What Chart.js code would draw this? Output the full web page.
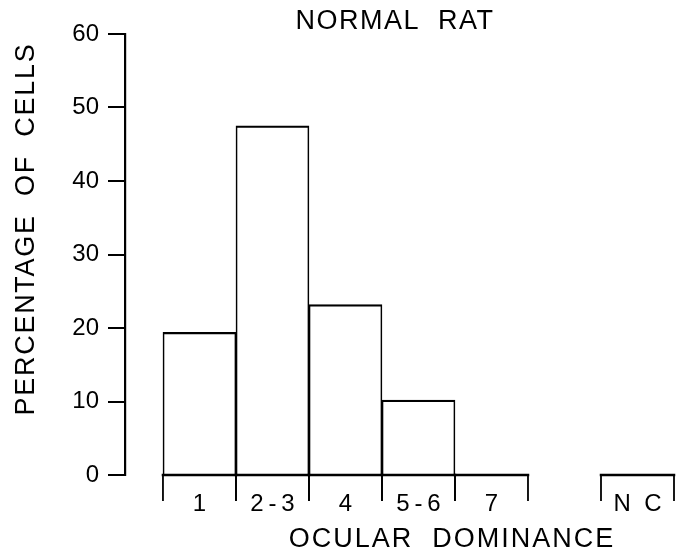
<!DOCTYPE html>
<html>
<head>
<meta charset="utf-8">
<script src="https://cdn.jsdelivr.net/npm/chart.js@4/dist/chart.umd.min.js"></script>
<style>
  html, body { margin: 0; padding: 0; background: #fff; }
  #wrap { width: 682px; height: 554px; position: relative; }
</style>
</head>
<body>
<div id="wrap"><canvas id="c" width="682" height="554"></canvas></div>
<script>
// ---- data ----
const categories = ['1', '2\u2009-\u20093', '4', '5\u2009-\u20096', '7', '', 'N  C'];
const percentages = [19.4, 47.5, 23.2, 10.2, 0, null, 0];
const yTicks = [0, 10, 20, 30, 40, 50, 60];
const chartTitle = 'NORMAL RAT';
const xTitle = 'OCULAR DOMINANCE';
const yTitle = 'PERCENTAGE OF CELLS';

const FONT = '"Liberation Sans", Arial, sans-serif';

const barData = [];
categories.forEach((c, i) => {
  if (percentages[i] !== null) barData.push({ x: i, y: percentages[i] });
});

// draws the category brackets under the baseline and the free text titles
const decor = {
  id: 'decor',
  afterDatasetsDraw(chart) {
    const ctx = chart.ctx;
    const xs = chart.scales.x, ys = chart.scales.y;
    const y0 = ys.getPixelForValue(0);
    ctx.save();
    ctx.strokeStyle = '#000';
    ctx.lineCap = 'square';
    categories.forEach((c, i) => {
      if (percentages[i] === null) return;
      const l = xs.getPixelForValue(i - 0.5);
      const r = xs.getPixelForValue(i + 0.5);
      ctx.lineWidth = 2.5;
      ctx.beginPath();
      ctx.moveTo(l, y0); ctx.lineTo(r, y0);
      ctx.stroke();
      ctx.lineWidth = 1.8;
      ctx.beginPath();
      ctx.moveTo(l, y0); ctx.lineTo(l, y0 + 25);
      ctx.moveTo(r, y0); ctx.lineTo(r, y0 + 25);
      ctx.stroke();
    });
    ctx.restore();
  },
  afterDraw(chart) {
    const ctx = chart.ctx;
    const xs = chart.scales.x;
    ctx.save();
    ctx.fillStyle = '#000';
    ctx.textAlign = 'center';
    ctx.textBaseline = 'middle';
    // main title
    ctx.font = '27px ' + FONT;
    ctx.letterSpacing = '1.5px';
    ctx.fillText(chartTitle.replace(' ', '  '), 395, 22);
    // x title
    ctx.font = '27px ' + FONT;
    ctx.letterSpacing = '2px';
    ctx.fillText(xTitle.replace(' ', '  '), xs.getPixelForValue(3.46), 540);
    // y title
    ctx.translate(27, 229);
    ctx.rotate(-Math.PI / 2);
    ctx.font = '27px ' + FONT;
    ctx.letterSpacing = '1.7px';
    ctx.fillText(yTitle.replace(/ /g, '  '), 0, 0);
    ctx.restore();
  }
};

new Chart(document.getElementById('c'), {
  type: 'bar',
  data: {
    datasets: [{
      data: barData,
      backgroundColor: 'rgba(255,255,255,0)',
      borderColor: '#000',
      borderWidth: { top: 1.6, left: 1, right: 1, bottom: 0 },
      borderSkipped: 'bottom',
      barPercentage: 1,
      categoryPercentage: 1
    }]
  },
  options: {
    responsive: false,
    animation: false,
    events: [],
    layout: { padding: { top: 34, right: 8, left: 0, bottom: 0 } },
    plugins: { legend: { display: false }, tooltip: { enabled: false }, title: { display: false } },
    scales: {
      x: {
        type: 'linear',
        offset: false,
        min: -1.02,
        max: 6.5,
        border: { display: false },
        grid: { display: false, drawTicks: false, offset: false },
        afterBuildTicks(scale) {
          scale.ticks = categories.map((c, i) => ({ value: i }));
        },
        afterFit(scale) {
          scale.height = 79;
          scale.paddingLeft = 0;
          scale.paddingRight = 0;
        },
        ticks: {
          autoSkip: false,
          maxRotation: 0,
          padding: 15,
          color: '#000',
          font: { family: FONT, size: 24 },
          callback: (v) => categories[v] !== undefined ? categories[v] : ''
        }
      },
      y: {
        min: 0,
        max: 60,
        afterBuildTicks(scale) {
          scale.ticks = yTicks.map(v => ({ value: v }));
        },
        afterFit(scale) { scale.width = 125; },
        border: { display: true, color: '#000', width: 2.2 },
        grid: { drawOnChartArea: false, drawTicks: true, tickLength: 17, color: '#000', lineWidth: 2 },
        ticks: {
          padding: 9,
          color: '#000',
          font: { family: FONT, size: 24 }
        }
      }
    }
  },
  plugins: [decor]
});
</script>
</body>
</html>
